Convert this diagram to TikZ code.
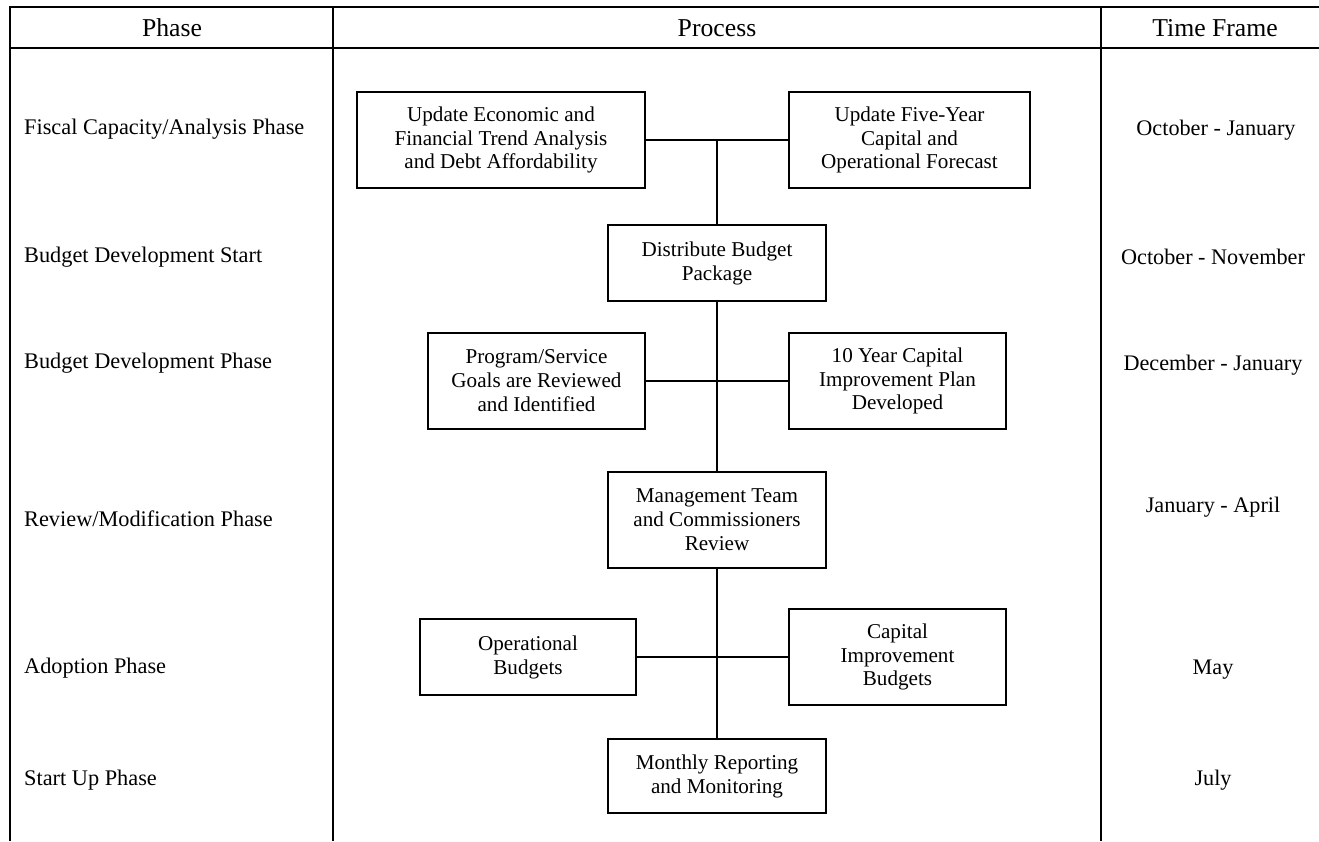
\documentclass[tikz,border=0pt]{standalone}
\usepackage{fontspec}
\setmainfont{Liberation Serif}
\begin{document}
\begin{tikzpicture}[x=1bp,y=-1bp,
  tbl/.style={line width=2.4bp},
  pbox/.style={draw, line width=1.9bp, inner sep=0pt, align=center,
    font=\fontsize{21.2}{24}\selectfont},
  link/.style={line width=1.8bp},
  hdr/.style={anchor=base, inner sep=0pt, font=\fontsize{25.8}{30}\selectfont},
  ph/.style={anchor=base west, inner sep=0pt, font=\fontsize{22.4}{26}\selectfont},
  tf/.style={anchor=base, inner sep=0pt, font=\fontsize{22.3}{26}\selectfont}]
\useasboundingbox (0,0) rectangle (1319,841);
% table frame
\draw[tbl] (10,841) -- (10,7) -- (1319,7);
\draw[tbl] (10,48) -- (1319,48);
\draw[tbl] (333,7) -- (333,841);
\draw[tbl] (1101,7) -- (1101,841);
% headers
\node[hdr] (hphase) at (172,36) {Phase};
\node[hdr] (hproc) at (717,36) {Process};
\node[hdr] (htime) at (1215,36) {Time Frame};
% phase column
\node[ph] (p1) at (24,134) {Fiscal Capacity/Analysis Phase};
\node[ph] (p2) at (24,262) {Budget Development Start};
\node[ph] (p3) at (24,368) {Budget Development Phase};
\node[ph] (p4) at (24,526) {Review/Modification Phase};
\node[ph] (p5) at (24,673) {Adoption Phase};
\node[ph] (p6) at (24,785) {Start Up Phase};
% time frame column
\node[tf] (t1) at (1216,135) {October - January};
\node[tf] (t2) at (1213,264) {October - November};
\node[tf] (t3) at (1213,370) {December - January};
\node[tf] (t4) at (1213,512) {January - April};
\node[tf] (t5) at (1213,674) {May};
\node[tf] (t6) at (1213,785) {July};
% process boxes
\node[pbox, minimum width=288bp, minimum height=96bp] (A) at (501,140)
  {Update Economic and\\Financial Trend Analysis\\and Debt Affordability};
\node[pbox, minimum width=241bp, minimum height=96bp] (B) at (909.5,140)
  {Update Five-Year\\Capital and\\Operational Forecast};
\node[pbox, minimum width=218bp, minimum height=76bp] (C) at (717,263)
  {Distribute Budget\\Package};
\node[pbox, minimum width=217bp, minimum height=96bp] (D) at (536.5,381)
  {Program/Service\\Goals are Reviewed\\and Identified};
\node[pbox, minimum width=217bp, minimum height=96bp] (E) at (897.5,381)
  {10 Year Capital\\Improvement Plan\\Developed};
\node[pbox, minimum width=218bp, minimum height=96bp] (F) at (717,520)
  {Management Team\\and Commissioners\\Review};
\node[pbox, minimum width=216bp, minimum height=76bp] (G) at (528,657)
  {Operational\\Budgets};
\node[pbox, minimum width=217bp, minimum height=96bp] (H) at (897.5,657)
  {Capital\\Improvement\\Budgets};
\node[pbox, minimum width=218bp, minimum height=74bp] (I) at (717,776)
  {Monthly Reporting\\and Monitoring};
% connectors
\draw[link] (A.east) -- (B.west);
\draw[link] (C.north) -- (C.north |- A.east);
\draw[link] (C.south) -- (F.north);
\draw[link] (D.east) -- (E.west);
\draw[link] (F.south) -- (I.north);
\draw[link] (G.east) -- (H.west);
\end{tikzpicture}
\end{document}
